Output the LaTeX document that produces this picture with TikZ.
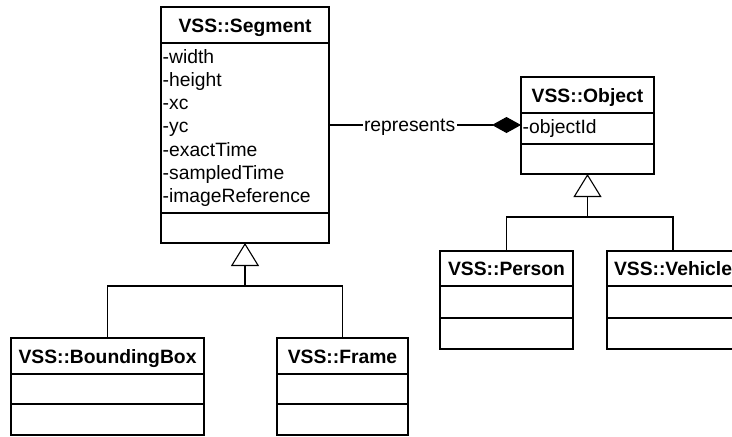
\documentclass[tikz,border=0pt]{standalone}
\usepackage{fontspec}
\setmainfont{Liberation Sans}
\usetikzlibrary{arrows.meta}

\tikzset{
  classbox/.style={draw, line width=1.8pt, inner sep=0pt, outer sep=0pt, anchor=north west},
  divider/.style={line width=1.8pt},
  classtitle/.style={anchor=base, inner sep=0pt, font=\bfseries\fontsize{19.3}{23.3}\selectfont},
  attr/.style={anchor=base west, inner sep=0pt, font=\fontsize{19.3}{23.3}\selectfont},
  conn/.style={line width=1.1pt},
  generalization/.style={conn, -{Triangle[open, fill=white, length=23pt, width=28pt]}},
  composition/.style={conn, -{Diamond[length=29pt, width=16pt]}},
  assoclabel/.style={fill=white, inner sep=1.5pt, font=\fontsize{19.3}{23.3}\selectfont}
}

% class box: name, left, top, width, height, divider 1, divider 2, title
\newcommand\umlclass[8]{%
  \node[classbox, minimum width=#4pt, minimum height=#5pt] (#1) at (#2,#3) {};
  \draw[divider] (#2,#6) -- ({#2+#4},#6);
  \draw[divider] (#2,#7) -- ({#2+#4},#7);
  \node[classtitle] (#1-title) at ({#2+#4/2},{(#3+#6)/2+7}) {#8};
}

\begin{document}
\begin{tikzpicture}[x=1pt, y=-1pt]
  \useasboundingbox (0,0) rectangle (732,437);
  \clip (0,0) rectangle (732,437);

  % classes
  \umlclass{seg}{161}{7}{168}{236}{43}{213}{VSS::Segment}
  \umlclass{obj}{521}{77}{133}{97}{113}{144}{VSS::Object}
  \umlclass{bbox}{11}{338}{193}{97}{374}{404}{VSS::BoundingBox}
  \umlclass{frame}{277}{338}{131}{97}{374}{404}{VSS::Frame}
  \umlclass{person}{440}{251}{133}{98}{286}{318}{VSS::Person}
  \umlclass{vehicle}{607}{251}{132}{98}{286}{318}{VSS::Vehicle}

  % attributes
  \foreach \t [count=\i] in {-width,-height,-xc,-yc,-exactTime,-sampledTime,-imageReference}
    \node[attr] (seg-a\i) at (162.5,{63+23.3*(\i-1)}) {\t};
  \node[attr] (obj-a1) at (522.5,133) {-objectId};

  % composition between segment and object
  \coordinate (segR) at (329,125);
  \coordinate (objL) at (521,125);
  \draw[composition] (segR) -- node[assoclabel, pos=0.42, yshift=-2pt] (rep) {represents} (objL);

  % inheritance from segment
  \coordinate (segjoin) at (245,286);
  \draw[conn] (bbox.north) |- (segjoin) -| (frame.north);
  \draw[generalization] (segjoin) -- (seg.south);

  % inheritance from object
  \coordinate (objjoin) at (587.5,217);
  \draw[conn] (person.north) |- (objjoin) -| (vehicle.north);
  \draw[generalization] (objjoin) -- (obj.south);
\end{tikzpicture}
\end{document}
